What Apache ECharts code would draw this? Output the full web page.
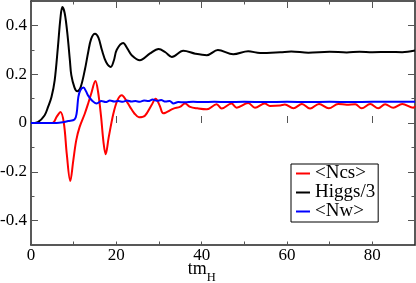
<!DOCTYPE html>
<html><head><meta charset="utf-8">
<script src="https://cdn.jsdelivr.net/npm/echarts@6/dist/echarts.min.js"></script>
<style>html,body{margin:0;padding:0;background:#fff}#c{width:416px;height:283px}</style>
</head><body><div id="c"></div>
<script>
const seriesNames = ['<Ncs>', 'Higgs/3', '<Nw>'];
const xTickLabels = ['0', '20', '40', '60', '80'];
const yTickLabels = ['-0.4', '-0.2', '0', '0.2', '0.4'];

const tHiggs = [0,1.6,3.2,4.0,4.8,5.55,6.3,6.9,7.35,7.9,8.5,9.1,9.45,10.2,10.85,11.6,12.6,13.4,14.1,15.0,15.8,16.6,17.6,18.7,19.4,20.1,21.6,22.6,23.6,25.5,27.9,29.9,31.5,33.0,35.7,38.5,41.2,43.8,47.4,50.9,53.7,58.4,61,65,70,74,77,80,84,87,90];
const higgs = [0,0.004,0.032,0.066,0.107,0.175,0.31,0.43,0.475,0.45,0.37,0.26,0.196,0.145,0.13,0.145,0.216,0.29,0.345,0.366,0.35,0.30,0.25,0.23,0.255,0.30,0.328,0.305,0.278,0.257,0.285,0.303,0.29,0.271,0.296,0.284,0.278,0.299,0.282,0.294,0.287,0.29,0.293,0.288,0.292,0.289,0.292,0.29,0.291,0.29,0.297];

const tNcs = [0,5.0,6.0,6.9,7.7,8.4,9.2,9.9,10.6,11.4,12.6,13.4,14.1,15.1,15.7,16.4,17.0,17.5,18.2,19.3,20.3,21.3,22.2,23.2,24.2,25.3,26.7,28.3,29.2,30.2,31.0,33.4,34.9,36.1,37.3,39.0,41.2,43.5,44.7,47.0,48.2,50.9,52.5,54.8,56.0,58.4,59.5,61.5,63.5,65.4,67.5,69.8,72,74,76,77.5,79.5,81.4,83,84.9,87,89.6,90];
const ncs = [0,0,0.025,0.045,0.0,-0.13,-0.238,-0.155,-0.071,-0.016,0.038,0.08,0.12,0.172,0.13,0.03,-0.08,-0.128,-0.06,0.038,0.095,0.114,0.095,0.066,0.04,0.024,0.03,0.075,0.099,0.07,0.04,0.059,0.066,0.08,0.066,0.06,0.056,0.077,0.059,0.08,0.063,0.082,0.063,0.08,0.07,0.072,0.076,0.06,0.078,0.059,0.078,0.06,0.078,0.075,0.077,0.06,0.078,0.06,0.077,0.062,0.078,0.062,0.07];

const tNw = [0,6,7.5,8.7,10.2,10.7,11.1,11.6,12.3,12.9,13.4,14.4,15.4,16.5,17.5,18.5,19.5,20.5,21.5,22.5,23.5,24.5,25.5,26.5,27.5,28.5,29.5,30.5,31.5,32.5,33.4,34.5,36,38,40,43,46,50,55,60,65,70,75,80,85,90];
const nw = [0,0,0.003,0.008,0.014,0.04,0.107,0.135,0.145,0.13,0.112,0.09,0.08,0.09,0.086,0.092,0.088,0.09,0.087,0.092,0.088,0.09,0.087,0.092,0.09,0.096,0.091,0.094,0.088,0.09,0.08,0.086,0.085,0.087,0.086,0.087,0.086,0.087,0.086,0.087,0.086,0.087,0.086,0.087,0.087,0.087];

const pair = (ts, vs) => ts.map((t, i) => [t, vs[i]]);
const FONT = 'Liberation Serif';
const AX = '#222';
const TK = '#555';

const chart = echarts.init(document.getElementById('c'), null, {renderer: 'canvas'});
const hidden = {show: false};
const frameLine = {show: true, onZero: false, lineStyle: {color: AX, width: 1.5}};

chart.setOption({
  backgroundColor: '#fff',
  animation: false,
  grid: [
    {left: 31, right: 1, top: 1, bottom: 38, outerBoundsMode: 'none'},
    {left: 31, right: 43.67, top: 1, bottom: 38, outerBoundsMode: 'none'},
    {left: 31, right: 1, top: 25.4, bottom: 62.4, outerBoundsMode: 'none'}
  ],
  xAxis: [
    {gridIndex: 0, type: 'value', min: 0, max: 90, interval: 10, position: 'bottom',
     axisLine: frameLine, splitLine: hidden, axisLabel: hidden,
     axisTick: {show: true, inside: true, length: 3.5, lineStyle: {color: TK, width: 1}}},
    {gridIndex: 0, type: 'value', min: 0, max: 90, interval: 10, position: 'top',
     axisLine: frameLine, splitLine: hidden, axisLabel: hidden,
     axisTick: {show: true, inside: true, length: 3.5, lineStyle: {color: TK, width: 1}}},
    {gridIndex: 1, type: 'value', min: 0, max: 80, interval: 20, position: 'bottom',
     axisLine: {show: false}, splitLine: hidden,
     axisTick: {show: true, inside: true, length: 7, lineStyle: {color: TK, width: 1}},
     axisLabel: {show: true, margin: 2, fontFamily: FONT, fontSize: 17, color: '#000',
       formatter: v => xTickLabels.find(l => Math.abs(parseFloat(l) - v) < 1e-9) || ''},
     name: '{a|tm}{b|H}', nameLocation: 'middle', nameGap: 15, nameMoveOverlap: false,
     nameTextStyle: {verticalAlign: 'top', rich: {
       a: {fontFamily: FONT, fontSize: 18, lineHeight: 20, verticalAlign: 'top', color: '#000'},
       b: {fontFamily: FONT, fontSize: 12.5, lineHeight: 13, padding: [11, 0, 0, 0], verticalAlign: 'top', color: '#000'}
     }}},
    {gridIndex: 1, type: 'value', min: 0, max: 80, interval: 20, position: 'top',
     axisLine: {show: false}, splitLine: hidden, axisLabel: hidden,
     axisTick: {show: true, inside: true, length: 7, lineStyle: {color: TK, width: 1}}},
    {gridIndex: 2, type: 'value', min: 0, max: 90, show: false}
  ],
  yAxis: [
    {gridIndex: 0, type: 'value', min: -0.5, max: 0.5, interval: 0.1, position: 'left',
     axisLine: frameLine, splitLine: hidden, axisLabel: hidden,
     axisTick: {show: true, inside: true, length: 3.5, lineStyle: {color: TK, width: 1}}},
    {gridIndex: 0, type: 'value', min: -0.5, max: 0.5, interval: 0.1, position: 'right',
     axisLine: frameLine, splitLine: hidden, axisLabel: hidden,
     axisTick: {show: true, inside: true, length: 3.5, lineStyle: {color: TK, width: 1}}},
    {gridIndex: 1, type: 'value', min: -0.5, max: 0.5, show: false},
    {gridIndex: 2, type: 'value', min: -0.4, max: 0.4, interval: 0.2, position: 'left',
     axisLine: {show: false}, splitLine: hidden,
     axisTick: {show: true, inside: true, length: 7, lineStyle: {color: TK, width: 1}},
     axisLabel: {show: true, margin: 4, fontFamily: FONT, fontSize: 17, color: '#000',
       formatter: v => yTickLabels.find(l => Math.abs(parseFloat(l) - v) < 1e-9) || ''}},
    {gridIndex: 2, type: 'value', min: -0.4, max: 0.4, interval: 0.2, position: 'right',
     axisLine: {show: false}, splitLine: hidden, axisLabel: hidden,
     axisTick: {show: true, inside: true, length: 7, lineStyle: {color: TK, width: 1}}}
  ],
  legend: {
    left: 291, top: 164, orient: 'vertical',
    backgroundColor: '#fff', borderColor: '#000', borderWidth: 1, borderRadius: 0,
    padding: [0, 3, 1, 5], itemGap: 0, itemWidth: 14, itemHeight: 2, icon: 'rect',
    textStyle: {fontFamily: FONT, fontSize: 19, lineHeight: 19, color: '#000'},
    data: seriesNames
  },
  series: [
    {name: seriesNames[0], type: 'line', xAxisIndex: 0, yAxisIndex: 0, data: pair(tNcs, ncs),
     smooth: 0.35, showSymbol: false, color: '#ff0000', lineStyle: {color: '#ff0000', width: 2}},
    {name: seriesNames[1], type: 'line', xAxisIndex: 0, yAxisIndex: 0, data: pair(tHiggs, higgs),
     smooth: 0.35, showSymbol: false, color: '#000000', lineStyle: {color: '#000000', width: 2}},
    {name: seriesNames[2], type: 'line', xAxisIndex: 0, yAxisIndex: 0, data: pair(tNw, nw),
     smooth: 0.35, showSymbol: false, color: '#0000ff', lineStyle: {color: '#0000ff', width: 2}}
  ]
});
</script>
</body></html>
